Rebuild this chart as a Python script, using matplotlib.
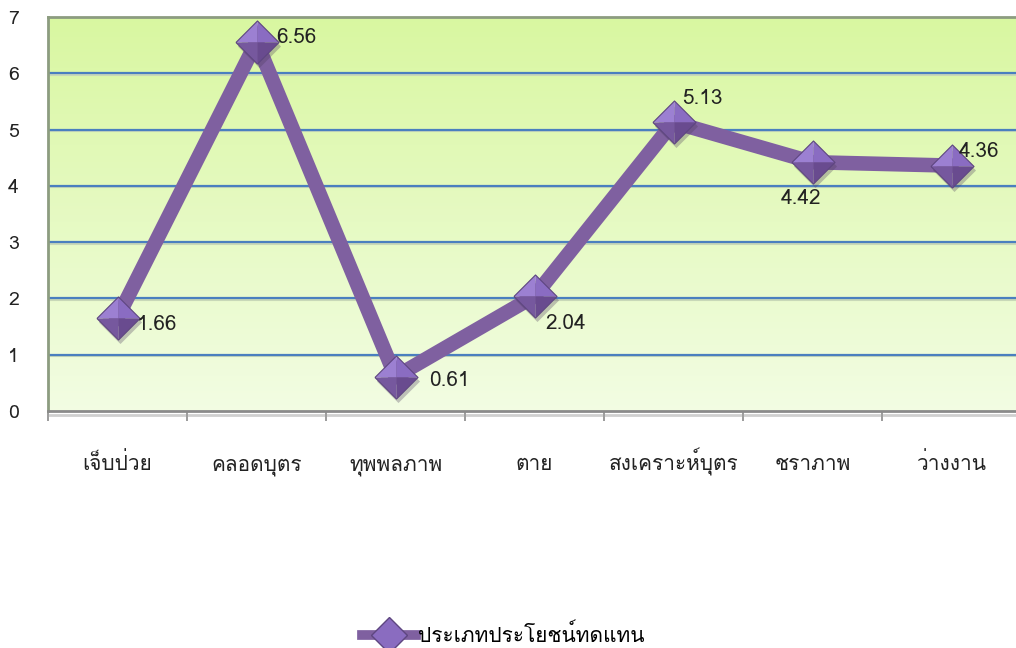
import numpy as np
import matplotlib
matplotlib.use("Agg")
import matplotlib.pyplot as plt
from matplotlib import font_manager
from matplotlib.ft2font import FT2Font
from matplotlib.path import Path
import matplotlib.patheffects as pe
import matplotlib.transforms as mtransforms
from matplotlib.lines import Line2D

# data
categories = ['เจ็บป่วย', 'คลอดบุตร', 'ทุพพลภาพ', 'ตาย', 'สงเคราะห์บุตร', 'ชราภาพ', 'ว่างงาน']
values = [1.66, 6.56, 0.61, 2.04, 5.13, 4.42, 4.36]
series_name = 'ประเภทประโยชน์ทดแทน'
# label offsets in points (dx, dy)
label_offsets = [(14, -5), (14, 3), (24, -3), (8, -20), (6, 17), (-8, -26), (5, 10)]


# find a font with Thai glyphs
def find_thai_family():
    for f in font_manager.fontManager.ttflist:
        try:
            cmap = FT2Font(f.fname).get_charmap()
        except Exception:
            continue
        if 0x0E01 in cmap and 0x0E2A in cmap:
            return f.name
    return None


thai = find_thai_family()
families = ([thai] if thai else []) + ['DejaVu Sans']
plt.rcParams['font.family'] = families

purple = '#7f60a0'
grid_blue = '#4a7fbf'

fig = plt.figure(figsize=(10.16, 6.48), dpi=100)
ax = fig.add_axes([48 / 1016, 1 - 411 / 648, 973 / 1016, 394 / 648])

x = np.arange(len(categories))
ax.set_xlim(-0.5, len(categories) - 0.5)
ax.set_ylim(0, 7)

# gradient background
grad = np.linspace(0, 1, 256).reshape(-1, 1)
top = np.array([0.85, 0.97, 0.63])
bot = np.array([0.95, 0.99, 0.89])
img = bot + (top - bot) * grad
ax.imshow(img[:, None, :].repeat(2, axis=1), extent=[-0.5, len(categories) - 0.5, 0, 7],
          origin='lower', aspect='auto', zorder=0)

# gridlines
for yv in range(1, 7):
    ax.axhline(yv - 0.025, color='#c8d8b8', lw=1.5, zorder=1)
    ax.axhline(yv, color=grid_blue, lw=1.6, zorder=1)

ax.spines['right'].set_visible(False)
ax.spines['top'].set_color('#8c9c80')
ax.spines['top'].set_linewidth(2)
ax.spines['left'].set_color('#8c9c80')
ax.spines['left'].set_linewidth(2)
ax.spines['bottom'].set_color('#8a8a8a')
ax.spines['bottom'].set_linewidth(2)
ax.spines['bottom'].set_path_effects([pe.SimpleLineShadow(offset=(0, -3), shadow_color='#a0a0a0', alpha=0.5),
                                      pe.Normal()])

ax.set_yticks(range(0, 8))
ax.tick_params(axis='y', length=0, pad=21, labelsize=14, labelcolor='#222222')
ax.set_xticks(x)
ax.set_xticklabels([])
ax.set_xticks(np.arange(-0.5, len(categories), 1), minor=True)
ax.tick_params(axis='x', which='major', length=0)
ax.tick_params(axis='x', which='minor', length=7, width=1.2, color='#8a8a8a')

# category labels on a common baseline
lab_trans = mtransforms.blended_transform_factory(ax.transData, fig.transFigure)
for xi, c in zip(x, categories):
    ax.text(xi, 1 - 470 / 648, c, transform=lab_trans, ha='center', va='baseline',
            fontsize=15, color='#222222')

# line
ax.plot(x, values, color=purple, lw=10.5, solid_joinstyle='miter', zorder=3)

# diamond markers with faceted look
ms = 31
facets = [
    ([(0, 0), (-1, 0), (0, 1), (0, 0)], '#9c80d2'),   # upper left
    ([(0, 0), (0, 1), (1, 0), (0, 0)], '#8a6cc2'),    # upper right
    ([(0, 0), (1, 0), (0, -1), (0, 0)], '#694b8f'),   # lower right
    ([(0, 0), (0, -1), (-1, 0), (0, 0)], '#76589e'),  # lower left
]
diamond = Path([(-1, 0), (0, 1), (1, 0), (0, -1), (-1, 0)])
shadow = ax.transData + mtransforms.ScaledTranslation(2 / 72, -3 / 72, fig.dpi_scale_trans)
ax.plot(x, values, ls='none', marker=diamond, ms=ms, mfc='#4a3a5a', mec='none', alpha=0.3,
        zorder=4, transform=shadow)
for verts, c in facets:
    ax.plot(x, values, ls='none', marker=Path(verts), ms=ms, mfc=c, mec='none', zorder=5)
ax.plot(x, values, ls='none', marker=diamond, ms=ms, mfc='none', mec='#5e4680', mew=0.8, zorder=6)

# data labels
for xi, v, (dx, dy) in zip(x, values, label_offsets):
    ax.annotate(f'{v:.2f}', (xi, v), xytext=(dx, dy), textcoords='offset points',
                ha='left' if dx > 0 else 'center', va='center', fontsize=15, color='#222222', zorder=7)

# legend
handle = Line2D([], [], color=purple, lw=7, marker='D', ms=18, mfc='#8a6cc0', mec='#5e4680')
fig.legend([handle], [series_name], loc='center', bbox_to_anchor=(0.495, 1 - 635 / 648),
           frameon=False, fontsize=15, handlelength=2.6, handletextpad=0.1)

fig.savefig('out.png', dpi=100)
